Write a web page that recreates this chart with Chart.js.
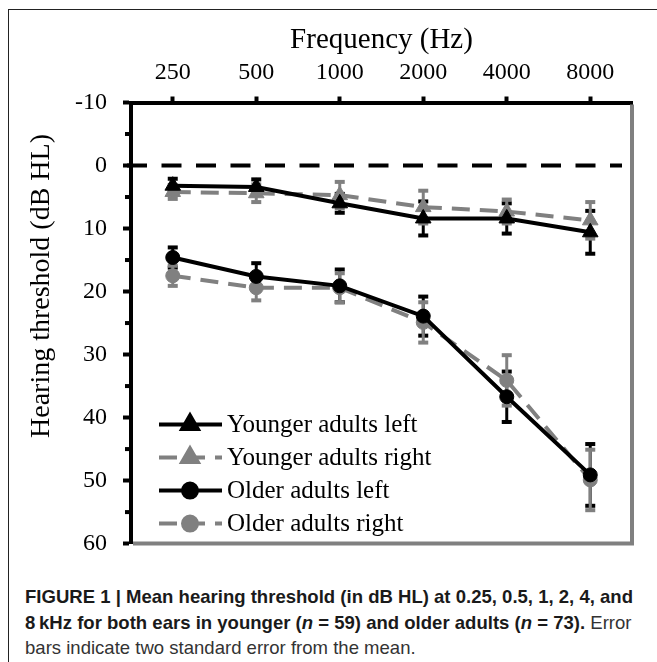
<!DOCTYPE html>
<html>
<head>
<meta charset="utf-8">
<script src="https://cdn.jsdelivr.net/npm/chart.js@4.4.1/dist/chart.umd.min.js"></script>
<style>
  html, body { margin: 0; padding: 0; background: #fff; }
  body { width: 657px; height: 662px; position: relative; overflow: hidden; }
  #frame { position: absolute; left: 8px; top: 9px; width: 700px; height: 700px;
           border-left: 1.5px solid #222; border-top: 1.5px solid #222; }
  #wrap { position: absolute; left: 0; top: 0; width: 657px; height: 574px; }
  #caption { position: absolute; left: 25px; top: 584px; white-space: nowrap;
             font-family: "Liberation Sans Narrow", "Liberation Sans", Arial, sans-serif;
             font-size: 19px; line-height: 25.5px; color: #333; transform-origin: 0 0; }
  #caption b { color: #1a1a1a; }
  #caption span { display: inline-block; }
</style>
</head>
<body>
<div id="frame"></div>
<div id="wrap"><canvas id="myChart"></canvas></div>
<div id="caption">
  <div><span id="cap1"><b>FIGURE 1 | Mean hearing threshold (in dB HL) at 0.25, 0.5, 1, 2, 4, and</b></span></div>
  <div><span><b>8&#8201;kHz for both ears in younger (<i>n</i> = 59) and older adults (<i>n</i> = 73).</b> Error</span></div>
  <div><span>bars indicate two standard error from the mean.</span></div>
</div>
<script>
const ctx = document.getElementById("myChart");

// frequencies (Hz) and mean thresholds (dB HL), errors = 2 SE
const frequencies = ['250', '500', '1000', '2000', '4000', '8000'];
const youngerLeft = [3.2, 3.4, 6.0, 8.4, 8.4, 10.6];
const youngerLeftErr = [1.1, 1.2, 1.5, 2.7, 2.4, 3.4];
const youngerRight = [4.2, 4.4, 4.7, 6.6, 7.3, 8.7];
const youngerRightErr = [1.1, 1.4, 2.1, 2.6, 1.9, 2.9];
const olderLeft = [14.6, 17.6, 19.1, 23.9, 36.7, 49.1];
const olderLeftErr = [1.6, 2.1, 2.6, 3.1, 4.0, 4.9];
const olderRight = [17.5, 19.4, 19.4, 24.9, 34.1, 49.9];
const olderRightErr = [1.6, 2.0, 2.3, 3.2, 4.0, 4.8];
const yMin = -10;
const yMax = 60;
const yStep = 10;

const serif = '"Liberation Serif", "Times New Roman", serif';
const grey = '#808080';

function series(label, data, errors, color, dashed, shape) {
    return {
        label: label,
        data: data,
        errors: errors,
        borderColor: color,
        backgroundColor: color,
        pointBackgroundColor: color,
        pointBorderColor: color,
        borderWidth: 4,
        borderDash: dashed ? [18, 10] : [],
        pointStyle: shape,
        pointRadius: shape === 'triangle' ? 9 : 7,
        pointHoverRadius: shape === 'triangle' ? 9 : 7,
        pointBorderWidth: 1,
        tension: 0,
        fill: false
    };
}

const data = {
    labels: frequencies,
    datasets: [
        series('Younger adults left', youngerLeft, youngerLeftErr, '#000', false, 'triangle'),
        series('Younger adults right', youngerRight, youngerRightErr, grey, true, 'triangle'),
        series('Older adults left', olderLeft, olderLeftErr, '#000', false, 'circle'),
        series('Older adults right', olderRight, olderRightErr, grey, true, 'circle')
    ]
};

const figure_extras = {
    id: 'figure_extras',
    beforeDatasetsDraw: (chart) => {
        const { ctx, chartArea: { left, right, top, bottom }, scales: { x, y } } = chart;
        ctx.save();
        // grey right / bottom frame of the plot
        ctx.strokeStyle = grey;
        ctx.lineWidth = 4;
        ctx.beginPath();
        ctx.moveTo(left + 2, bottom);
        ctx.lineTo(right, bottom);
        ctx.lineTo(right, top + 2);
        ctx.stroke();
        // 0 dB reference line
        const y0 = y.getPixelForValue(0);
        ctx.strokeStyle = '#000';
        ctx.setLineDash([20, 14.5]);
        ctx.beginPath();
        ctx.moveTo(left - 4, y0);
        ctx.lineTo(right - 10, y0);
        ctx.stroke();
        ctx.setLineDash([]);
        // error bars
        chart.data.datasets.forEach((ds) => {
            ctx.strokeStyle = ds.borderColor;
            ctx.fillStyle = ds.borderColor;
            ctx.lineWidth = 3;
            ds.errors.forEach((e, i) => {
                const px = x.getPixelForValue(i);
                const hi = y.getPixelForValue(ds.data[i] - e);
                const lo = y.getPixelForValue(ds.data[i] + e);
                ctx.beginPath();
                ctx.moveTo(px, hi);
                ctx.lineTo(px, lo);
                ctx.stroke();
                ctx.fillRect(px - 5, hi - 2, 10, 4);
                ctx.fillRect(px - 5, lo - 2, 10, 4);
            });
        });
        ctx.restore();
    },
    afterDraw: (chart) => {
        const { ctx, chartArea: { left, top, bottom }, scales: { y } } = chart;
        ctx.save();
        // minor ticks
        ctx.fillStyle = '#000';
        for (let v = yMin + yStep / 2; v < yMax; v += yStep) {
            const py = y.getPixelForValue(v);
            ctx.fillRect(left - 6, py - 2, 6, 4);
        }
        // y title
        ctx.translate(42, 286);
        ctx.rotate(-Math.PI / 2);
        ctx.font = '28px ' + serif;
        ctx.textAlign = 'center';
        ctx.textBaseline = 'middle';
        ctx.fillText('Hearing threshold (dB HL)', 0, 0);
        ctx.restore();

        // legend
        ctx.save();
        chart.data.datasets.forEach((ds, i) => {
            const ry = bottom - 119 + i * 33;
            ctx.strokeStyle = ds.borderColor;
            ctx.fillStyle = ds.borderColor;
            ctx.lineWidth = 4;
            ctx.setLineDash(ds.borderDash);
            ctx.beginPath();
            ctx.moveTo(159, ry);
            ctx.lineTo(222, ry);
            ctx.stroke();
            ctx.setLineDash([]);
            Chart.helpers.drawPoint(ctx, {
                pointStyle: ds.pointStyle, radius: ds.pointRadius, borderWidth: 1, rotation: 0
            }, 190, ry);
            ctx.fillStyle = '#000';
            ctx.font = '25px ' + serif;
            ctx.textAlign = 'left';
            ctx.textBaseline = 'middle';
            ctx.fillText(ds.label, 227, ry + 1);
        });
        ctx.restore();
    }
};

new Chart(ctx, {
    type: 'line',
    data: data,
    options: {
        maintainAspectRatio: false,
        responsive: true,
        animation: false,
        layout: { padding: { left: 0, top: 0, right: 25, bottom: 4 } },
        plugins: {
            legend: { display: false },
            tooltip: { enabled: false }
        },
        scales: {
            x: {
                position: 'top',
                offset: true,
                ticks: { color: '#000', font: { family: serif, size: 24 }, padding: 9 },
                grid: { offset: false, drawOnChartArea: false, tickLength: 6, tickWidth: 4, tickColor: '#000' },
                border: { display: true, color: '#000', width: 4 },
                title: {
                    display: true,
                    text: 'Frequency (Hz)',
                    color: '#000',
                    font: { family: serif, size: 29 },
                    padding: { top: 23, bottom: 0 }
                },
                afterFit: (scale) => { scale.height = 102.5; }
            },
            y: {
                reverse: true,
                min: yMin,
                max: yMax,
                ticks: { stepSize: yStep, color: '#000', font: { family: serif, size: 24 }, padding: 16 },
                grid: { drawOnChartArea: false, tickLength: 8, tickWidth: 4, tickColor: '#000' },
                border: { display: true, color: '#000', width: 4 },
                afterFit: (scale) => { scale.width = 131; }
            }
        }
    },
    plugins: [figure_extras]
});

// squeeze caption to the condensed width of the original
const cap = document.getElementById('caption');
const w = document.getElementById('cap1').getBoundingClientRect().width;
cap.style.transform = 'scaleX(' + (608 / w) + ')';
</script>
</body>
</html>
